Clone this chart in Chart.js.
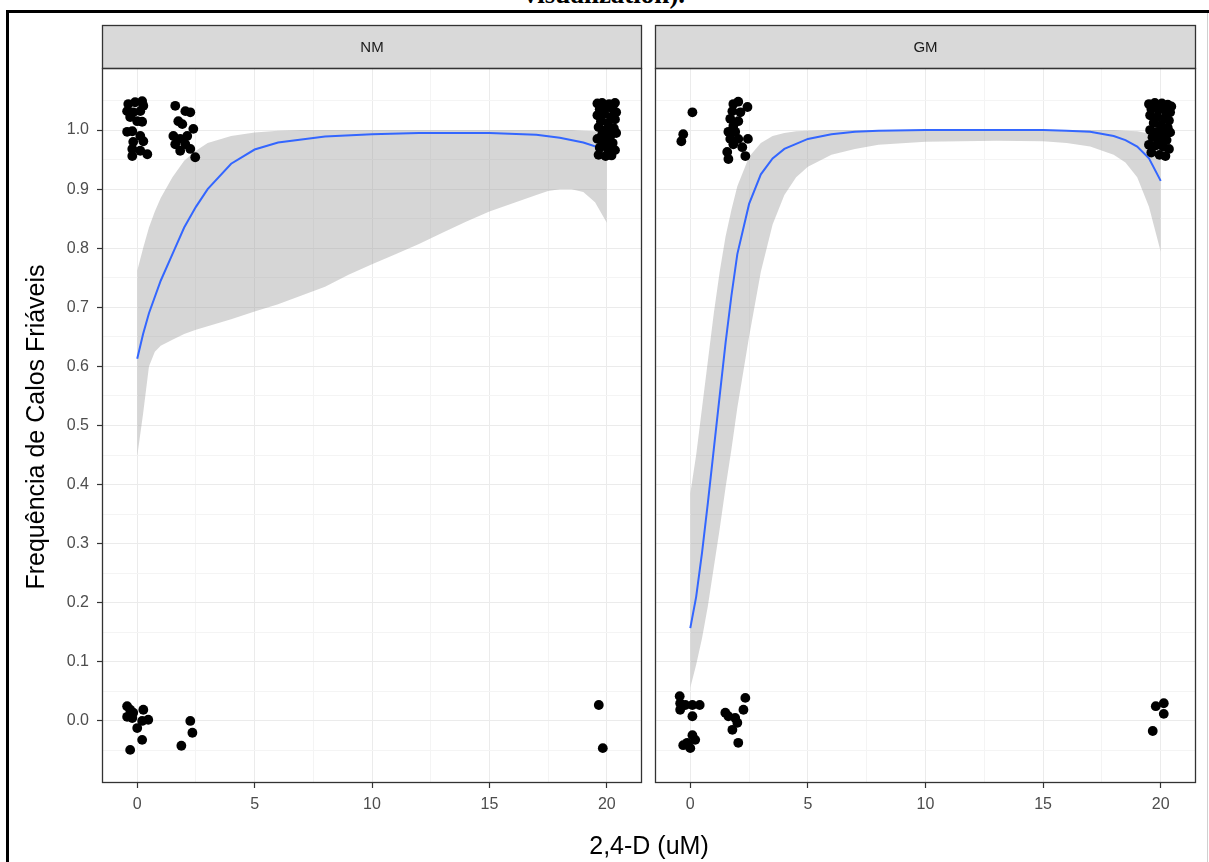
<!DOCTYPE html>
<html>
<head>
<meta charset="utf-8">
<script src="https://cdn.jsdelivr.net/npm/chart.js@4.4.1/dist/chart.umd.min.js"></script>
<style>
  html, body { margin: 0; padding: 0; background: #fff; overflow: hidden; }
  #page { position: relative; width: 1209px; height: 862px; overflow: hidden; background: #fff;
          font-family: "Liberation Sans", Arial, sans-serif; }
  #frame { position: absolute; left: 6px; top: 10px; width: 1400px; height: 1000px;
           border-left: 3px solid #000; border-top: 3px solid #000; box-sizing: border-box; }
  #edge { position: absolute; left: 1207px; top: 13px; width: 1px; height: 860px; background: #d0d0d0; }
  #caption { position: absolute; left: 0; width: 1209px; top: -21px; height: 30px; line-height: 30px; text-align: center;
             font: bold 27px "Liberation Serif", "Times New Roman", serif; color: #000; }
  .panel { position: absolute; top: 0; }
  #ytitle { position: absolute; left: 35px; top: 427px; width: 500px; margin-left: -250px; margin-top: -15px;
            height: 30px; line-height: 30px; text-align: center; transform: rotate(-90deg);
            font-size: 25px; color: #000; white-space: nowrap; }
  #xtitle { position: absolute; left: 649px; top: 830px; width: 400px; margin-left: -200px;
            height: 30px; line-height: 30px; text-align: center; font-size: 25px; color: #000; white-space: nowrap; }
</style>
</head>
<body>
<div id="page">
  <div id="frame"></div>
  <div id="edge"></div>
  <div id="caption">visualization).</div>
  <canvas id="nm" class="panel" width="650" height="862" style="left:0px"></canvas>
  <canvas id="gm" class="panel" width="561" height="862" style="left:648px"></canvas>
  <div id="ytitle">Frequência de Calos Friáveis</div>
  <div id="xtitle">2,4-D (uM)</div>
</div>
<script>
// Facet labels
const panelNames = ['NM', 'GM'];

// Axis ticks (major ones carry labels)
const xMajorTicks = [0, 5, 10, 15, 20];
const xMinorTicks = [2.5, 7.5, 12.5, 17.5];
const yMajorTicks = [0.0, 0.1, 0.2, 0.3, 0.4, 0.5, 0.6, 0.7, 0.8, 0.9, 1.0];
const yTickLabels = ['0.0', '0.1', '0.2', '0.3', '0.4', '0.5', '0.6', '0.7', '0.8', '0.9', '1.0'];
const yMinorTicks = [-0.05, 0.05, 0.15, 0.25, 0.35, 0.45, 0.55, 0.65, 0.75, 0.85, 0.95, 1.05];

// NM: jittered observations (0 = not friable, 1 = friable)
const nmPointX = [
  -0.38, -0.09, 0.21, 0.26, -0.43, -0.17, 0.13, -0.30, 0.00, 0.21, -0.43, -0.21, 0.13, 0.26, -0.17, -0.21, 0.13, 0.43, -0.21,
  1.62, 2.05, 2.26, 1.75, 1.92, 2.39, 1.54, 1.83, 2.13, 1.62, 2.05, 1.83, 2.26, 2.47,
  19.60, 19.80, 20.10, 20.35, 19.70, 20.00, 20.25, 20.40, 19.60, 19.90, 20.20, 19.75, 20.05, 20.35, 19.65, 19.95, 20.30,
  19.80, 20.15, 20.40, 19.60, 19.90, 20.25, 19.70, 20.05, 20.35, 19.65, 19.95, 20.20, 19.85, 20.10,
  -0.43, -0.30, -0.17, -0.43, -0.21, 0.26, 0.47, 0.21, 0.00, 0.21, -0.30,
  2.26, 2.35, 1.88,
  19.66, 19.83
];
const nmPointY = [
  1.044, 1.047, 1.049, 1.041, 1.032, 1.030, 1.032, 1.022, 1.015, 1.014, 0.997, 0.998, 0.990, 0.981, 0.980, 0.968, 0.965, 0.959, 0.956,
  1.041, 1.032, 1.030, 1.015, 1.010, 1.002, 0.990, 0.985, 0.990, 0.976, 0.976, 0.965, 0.968, 0.954,
  1.045, 1.046, 1.044, 1.046, 1.035, 1.038, 1.036, 1.030, 1.025, 1.027, 1.022, 1.015, 1.012, 1.018, 1.005, 1.000, 1.003,
  0.992, 0.990, 0.995, 0.985, 0.980, 0.978, 0.970, 0.968, 0.966, 0.958, 0.956, 0.957, 1.040, 1.000,
  0.025, 0.019, 0.014, 0.007, 0.005, 0.019, 0.002, 0.000, -0.012, -0.032, -0.049,
  0.000, -0.020, -0.042,
  0.027, -0.046
];

// GM: jittered observations
const gmPointX = [
  0.09, -0.30, -0.38,
  2.04, 1.83, 2.43, 1.79, 2.13, 1.70, 2.04, 1.83, 1.62, 1.91, 1.70, 2.04, 2.45, 1.83, 2.21, 1.57, 2.34, 1.62,
  19.50, 19.75, 20.05, 20.30, 20.45, 19.60, 19.90, 20.20, 20.40, 19.55, 19.85, 20.15, 20.35, 19.70, 20.00, 20.30,
  19.55, 19.85, 20.10, 20.40, 19.65, 19.95, 20.25, 19.50, 19.80, 20.10, 20.35, 19.60, 19.95, 20.20,
  -0.45, -0.43, -0.21, 0.09, 0.40, 0.09, 0.09, 0.21, -0.30, 0.00, -0.13, -0.43,
  2.34, 2.26, 1.49, 1.62, 1.91, 2.00, 1.79, 2.04,
  19.79, 20.13, 20.13, 19.66
];
const gmPointY = [
  1.030, 0.993, 0.981,
  1.048, 1.044, 1.039, 1.032, 1.030, 1.019, 1.015, 1.007, 0.997, 0.997, 0.985, 0.985, 0.985, 0.976, 0.971, 0.963, 0.956, 0.951,
  1.044, 1.046, 1.045, 1.043, 1.040, 1.036, 1.034, 1.033, 1.030, 1.025, 1.022, 1.020, 1.016, 1.012, 1.008, 1.004,
  1.000, 0.997, 0.994, 0.996, 0.988, 0.985, 0.983, 0.975, 0.974, 0.972, 0.968, 0.962, 0.958, 0.956,
  0.042, 0.030, 0.027, 0.027, 0.027, 0.008, -0.024, -0.032, -0.041, -0.046, -0.037, 0.019,
  0.039, 0.019, 0.014, 0.008, 0.005, -0.003, -0.015, -0.037,
  0.025, 0.030, 0.012, -0.017
];

// NM: fitted curve with confidence band
const nmFitX   = [0, 0.25, 0.5, 1, 1.5, 2, 2.5, 3, 4, 5, 6, 8, 10, 12, 15, 17, 18, 19, 20];
const nmFit    = [0.613, 0.655, 0.690, 0.745, 0.790, 0.835, 0.870, 0.900, 0.943, 0.967, 0.979, 0.989, 0.993, 0.995, 0.995, 0.992, 0.987, 0.979, 0.966];
const nmBandX  = [0, 0.25, 0.5, 0.75, 1, 1.5, 2, 2.5, 3, 4, 5, 6, 7, 8, 9, 10, 11, 12, 13, 14, 15, 16, 17, 17.5, 18, 18.5, 19, 19.5, 20];
const nmUpper  = [0.762, 0.800, 0.835, 0.862, 0.885, 0.920, 0.948, 0.965, 0.978, 0.990, 0.996, 0.999, 1.000, 1.000, 1.000, 1.000, 1.000, 1.000, 1.000, 1.000, 1.000, 1.000, 1.000, 1.000, 1.000, 1.000, 0.999, 0.998, 0.996];
const nmLower  = [0.448, 0.520, 0.600, 0.625, 0.635, 0.645, 0.655, 0.662, 0.668, 0.680, 0.693, 0.705, 0.720, 0.735, 0.755, 0.773, 0.790, 0.807, 0.826, 0.845, 0.862, 0.876, 0.890, 0.897, 0.900, 0.900, 0.895, 0.878, 0.843];

// GM: fitted curve with confidence band
const gmFitX   = [0, 0.25, 0.5, 0.75, 1, 1.25, 1.5, 1.75, 2, 2.5, 3, 3.5, 4, 5, 6, 7, 8, 10, 15, 16, 17, 18, 18.5, 19, 19.5, 20];
const gmFit    = [0.157, 0.210, 0.285, 0.370, 0.460, 0.550, 0.640, 0.720, 0.790, 0.875, 0.925, 0.952, 0.968, 0.985, 0.993, 0.997, 0.999, 1.000, 1.000, 0.999, 0.997, 0.990, 0.983, 0.972, 0.952, 0.914];
const gmBandX  = [0, 0.25, 0.5, 0.75, 1, 1.25, 1.5, 1.75, 2, 2.5, 3, 3.5, 4, 4.5, 5, 6, 7, 8, 10, 13, 15, 16, 17, 18, 18.5, 19, 19.5, 20];
const gmUpper  = [0.385, 0.450, 0.530, 0.610, 0.690, 0.760, 0.820, 0.865, 0.905, 0.955, 0.978, 0.990, 0.995, 0.998, 0.999, 1.000, 1.000, 1.000, 1.000, 1.000, 1.000, 1.000, 1.000, 1.000, 0.999, 0.998, 0.994, 0.985];
const gmLower  = [0.056, 0.095, 0.140, 0.195, 0.260, 0.325, 0.395, 0.460, 0.530, 0.650, 0.760, 0.840, 0.890, 0.920, 0.938, 0.958, 0.968, 0.975, 0.980, 0.982, 0.981, 0.978, 0.972, 0.958, 0.945, 0.920, 0.870, 0.794];

const zip = (xs, ys) => xs.map((x, i) => ({ x: x, y: ys[i] }));

Chart.defaults.font.family = '"Liberation Sans", Arial, sans-serif';
Chart.defaults.animation = false;

const isMajorX = v => xMajorTicks.includes(v);
const isMajorY = v => yMajorTicks.some(t => Math.abs(t - v) < 1e-9);

// Strip header and panel border, drawn above everything else
const facetFrame = {
  id: 'facetFrame',
  afterDraw(chart, args, opts) {
    const { ctx, chartArea: a } = chart;
    const top = opts.stripTop;
    ctx.save();
    ctx.fillStyle = '#D9D9D9';
    ctx.fillRect(a.left, top, a.right - a.left, a.top - top);
    ctx.strokeStyle = '#333333';
    ctx.lineWidth = 1.3;
    ctx.strokeRect(a.left + 0.5, top + 0.5, a.right - a.left - 1, a.top - top);
    ctx.strokeRect(a.left + 0.5, a.top + 0.5, a.right - a.left - 1, a.bottom - a.top - 1);
    ctx.fillStyle = '#1A1A1A';
    ctx.font = '15px "Liberation Sans", Arial, sans-serif';
    ctx.textAlign = 'center';
    ctx.textBaseline = 'middle';
    ctx.fillText(opts.label, (a.left + a.right) / 2, (top + a.top) / 2 + 1);
    ctx.restore();
  }
};

function makePanel(canvasId, label, px, py, fx, fy, bx, bu, bl, showY) {
  const gridColor = ctx => (ctx.tick && ctx.tick.major) ? '#EBEBEB' : '#F4F4F4';
  return new Chart(document.getElementById(canvasId), {
    type: 'scatter',
    data: {
      datasets: [
        { data: zip(px, py), pointRadius: 4.9, pointHoverRadius: 4.9, backgroundColor: '#000000', borderWidth: 0 },
        { data: zip(fx, fy), showLine: true, borderColor: '#3366FF', borderWidth: 2, pointRadius: 0, fill: false, tension: 0 },
        { data: zip(bx, bu), showLine: true, borderColor: 'rgba(0,0,0,0)', borderWidth: 1, pointRadius: 0,
          fill: '+1', backgroundColor: 'rgba(153,153,153,0.4)', tension: 0 },
        { data: zip(bx, bl), showLine: true, borderColor: 'rgba(0,0,0,0)', borderWidth: 1, pointRadius: 0, fill: false, tension: 0 }
      ]
    },
    options: {
      responsive: false,
      animation: false,
      events: [],
      layout: { padding: showY ? { top: 68, right: 8, bottom: 0, left: 0 } : { top: 68, right: 13, bottom: 0, left: 7 } },
      plugins: {
        legend: { display: false },
        tooltip: { enabled: false },
        facetFrame: { label: label, stripTop: 25 }
      },
      scales: {
        x: {
          type: 'linear', min: -1.5, max: 21.5,
          afterBuildTicks: s => {
            s.ticks = xMajorTicks.concat(xMinorTicks).sort((a, b) => a - b).map(v => ({ value: v, major: isMajorX(v) }));
          },
          afterFit: s => { s.height = 79; },
          border: { display: false },
          grid: {
            color: gridColor, lineWidth: 1,
            drawTicks: true, tickLength: 5, tickWidth: 1.2,
            tickColor: ctx => (ctx.tick && ctx.tick.major) ? '#333333' : 'rgba(0,0,0,0)'
          },
          ticks: {
            autoSkip: false, maxRotation: 0, padding: 7, color: '#4D4D4D', font: { size: 16 },
            callback: v => isMajorX(v) ? String(v) : ''
          }
        },
        y: {
          type: 'linear', min: -0.105, max: 1.105,
          afterBuildTicks: s => {
            s.ticks = yMajorTicks.concat(yMinorTicks).sort((a, b) => a - b).map(v => ({ value: v, major: isMajorY(v) }));
          },
          afterFit: s => { s.width = showY ? 102 : 0; },
          border: { display: false },
          grid: {
            color: gridColor, lineWidth: 1,
            drawTicks: showY, tickLength: 5, tickWidth: 1.2,
            tickColor: ctx => (ctx.tick && ctx.tick.major) ? '#333333' : 'rgba(0,0,0,0)'
          },
          ticks: {
            display: showY, autoSkip: false, padding: 8, color: '#4D4D4D', font: { size: 16 },
            callback: v => {
              const i = yMajorTicks.findIndex(t => Math.abs(t - v) < 1e-9);
              return i >= 0 ? yTickLabels[i] : '';
            }
          }
        }
      }
    },
    plugins: [facetFrame]
  });
}

makePanel('nm', panelNames[0], nmPointX, nmPointY, nmFitX, nmFit, nmBandX, nmUpper, nmLower, true);
makePanel('gm', panelNames[1], gmPointX, gmPointY, gmFitX, gmFit, gmBandX, gmUpper, gmLower, false);
</script>
</body>
</html>
